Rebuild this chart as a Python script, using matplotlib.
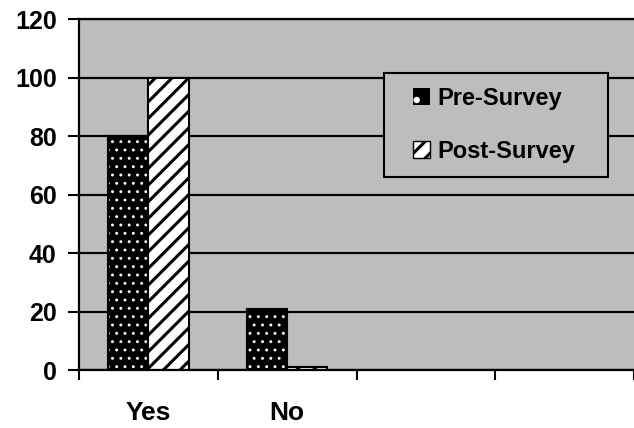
import numpy as np
import matplotlib.pyplot as plt
from matplotlib.patches import Patch, Rectangle
from matplotlib.legend_handler import HandlerPatch

# data
categories = ['Yes', 'No']
pre_survey = [80, 21]
post_survey = [100, 1]
y_ticks = [0, 20, 40, 60, 80, 100, 120]
series_labels = ['Pre-Survey', 'Post-Survey']

BG = '#bdbdbd'
BAR_W = 0.29

plt.rcParams['font.family'] = ['Liberation Sans', 'DejaVu Sans']
plt.rcParams['font.weight'] = 'bold'


def right_square(legend, orig_handle, xdescent, ydescent, width, height, fontsize):
    # small square pushed to the right end of the handle box
    return Rectangle((-xdescent + width - height, -ydescent), height, height)


fig = plt.figure(figsize=(6.34, 4.28), dpi=100)
fig.patch.set_facecolor('white')
ax = fig.add_axes([79 / 634, 1 - 370 / 428, 1 - 79 / 634, 351 / 428])
ax.set_facecolor(BG)

x = np.arange(len(categories))

# pre-survey: black with small white dots, then a black outline on top
plt.rcParams['hatch.linewidth'] = 0.9
ax.bar(x - BAR_W / 2, pre_survey, BAR_W, color='black', edgecolor='white',
       hatch='..', linewidth=0, zorder=2)
pre_handle = Patch(facecolor='black', edgecolor='white', hatch='.', linewidth=0)
ax.bar(x - BAR_W / 2, pre_survey, BAR_W, fill=False, edgecolor='black',
       linewidth=1.5, zorder=3)
# post-survey: white with thick black diagonal stripes
plt.rcParams['hatch.linewidth'] = 2.2
ax.bar(x + BAR_W / 2, post_survey, BAR_W, color='white', edgecolor='black',
       hatch='//', linewidth=1.5, zorder=2)
post_handle = Patch(facecolor='white', edgecolor='black', hatch='//', linewidth=1.0)

ax.set_ylim(0, 120)
ax.set_xlim(-0.5, -0.5 + 555 / 140)
ax.set_yticks(y_ticks)
ax.tick_params(axis='y', length=8, width=1.5, pad=8, labelsize=18)
for lab in ax.get_yticklabels():
    lab.set_fontweight('bold')

ax.yaxis.grid(True, color='black', linewidth=1.6)
ax.set_axisbelow(True)

# category boundaries as major ticks, names as minor ticks
ax.set_xticks([-0.5, 0.5, 1.5, 2.5, 3.5])
ax.set_xticklabels([])
ax.tick_params(axis='x', which='major', length=7, width=1.5)
ax.set_xticks(x, categories, minor=True)
ax.tick_params(axis='x', which='minor', length=0, pad=22, labelsize=19)
for lab in ax.get_xticklabels(minor=True):
    lab.set_fontweight('bold')

for side in ['left', 'bottom', 'top']:
    ax.spines[side].set_linewidth(1.6)
    ax.spines[side].set_color('black')
ax.spines['right'].set_visible(False)

leg = fig.legend([pre_handle, post_handle], series_labels, loc='upper left',
                 bbox_to_anchor=(384 / 634, 1 - 177 / 428, 224 / 634, 104 / 428),
                 mode='expand', borderaxespad=0, fancybox=False, framealpha=1,
                 facecolor=BG, edgecolor='black', handlelength=1.36,
                 handleheight=0.72, handletextpad=0.3, labelspacing=1.25,
                 borderpad=0.6, prop={'size': 17, 'weight': 'bold'},
                 handler_map={Patch: HandlerPatch(patch_func=right_square)})
leg.get_frame().set_linewidth(1.5)

fig.savefig('out.png', dpi=100)
